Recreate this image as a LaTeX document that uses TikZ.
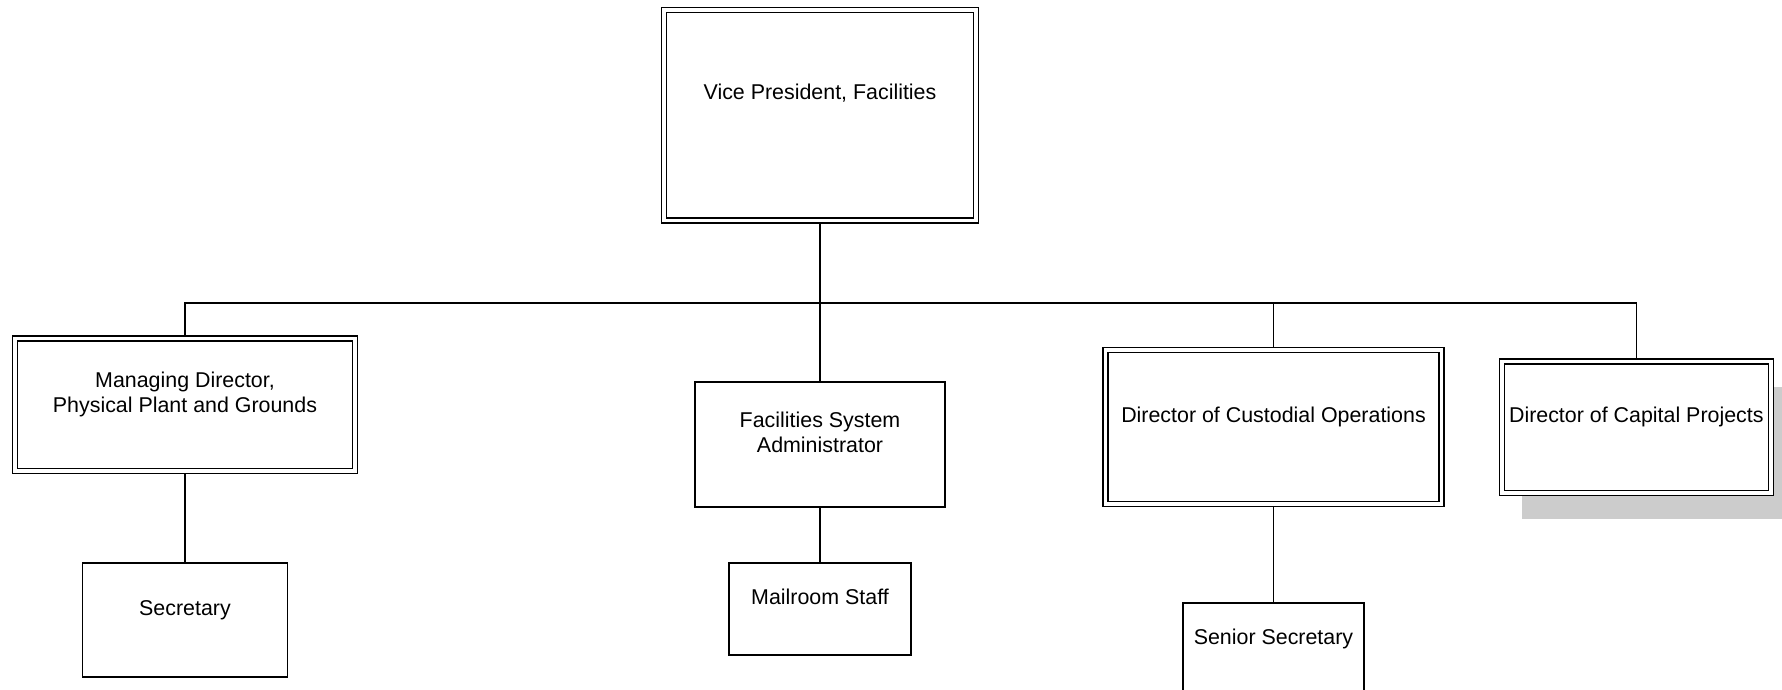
\documentclass[tikz,border=0pt]{standalone}
\usepackage{fontspec}
\setmainfont{Liberation Sans}
\usepackage{tikz}
\usetikzlibrary{
    positioning,
    shadows
}
\tikzset{
    orgbox/.style={
        rectangle, draw, line width=0.65pt, fill=white,
        align=center, inner sep=0pt, outer sep=0pt,
        text height=8pt
    },
    headbox/.style={
        orgbox, double, double distance=1.85pt, outer sep=1.575pt
    },
    link/.style={
        draw=black, line width=0.65pt
    }
}

\begin{document}
\begin{tikzpicture}[
    x=0.5pt, y=0.5pt,
    font=\fontsize{10.7}{12.4}\selectfont,
    shadowed/.style={drop shadow={shadow xshift=10pt, shadow yshift=-12.9pt, fill=gray!40, opacity=1}}
]
    \useasboundingbox (0,0) rectangle (1782,-690);

    % --- TOP ---
    \node[headbox, minimum width=156.25pt, minimum height=105.25pt, text depth=24.2pt] (vp) at (820,-115.2) {Vice President, Facilities};

    % --- HEADS ---
    \node[headbox, minimum width=170.2pt, minimum height=66.15pt, text depth=0.6pt] (md) at (185,-404.65) {Managing Director,\\Physical Plant and Grounds};
    \node[orgbox, minimum width=125pt, minimum height=62.5pt, text depth=0.2pt] (fsa) at (820,-444.5) {Facilities System\\Administrator};
    \node[headbox, minimum width=168pt, minimum height=77pt, text depth=13pt] (cust) at (1273.5,-427.2) {Director of Custodial Operations};
    \node[headbox, shadowed, minimum width=134.5pt, minimum height=65.85pt, text depth=13pt] (cap) at (1636.3,-427.35) {Director of Capital Projects};

    % --- STAFF ---
    \node[orgbox, below=44.55pt of md, minimum width=102.5pt, minimum height=57pt, text depth=13pt] (sec) {Secretary};
    \node[orgbox, below=28pt of fsa, minimum width=91pt, minimum height=46pt, text depth=13pt] (mail) {Mailroom Staff};
    \node[orgbox, below=47.85pt of cust, minimum width=90.5pt, minimum height=46pt, text depth=13pt] (ssec) {Senior Secretary};

    % --- LINES ---
    \coordinate (bus) at (820,-303);
    \draw[link] (vp.south) -- (bus);
    \draw[link] (md.north) |- (bus) -| (cap.north);
    \draw[link] (bus -| fsa.north) -- (fsa.north);
    \draw[link] (bus -| cust.north) -- (cust.north);

    \draw[link] (md.south) -- (sec.north);
    \draw[link] (fsa.south) -- (mail.north);
    \draw[link] (cust.south) -- (ssec.north);

\end{tikzpicture}
\end{document}
